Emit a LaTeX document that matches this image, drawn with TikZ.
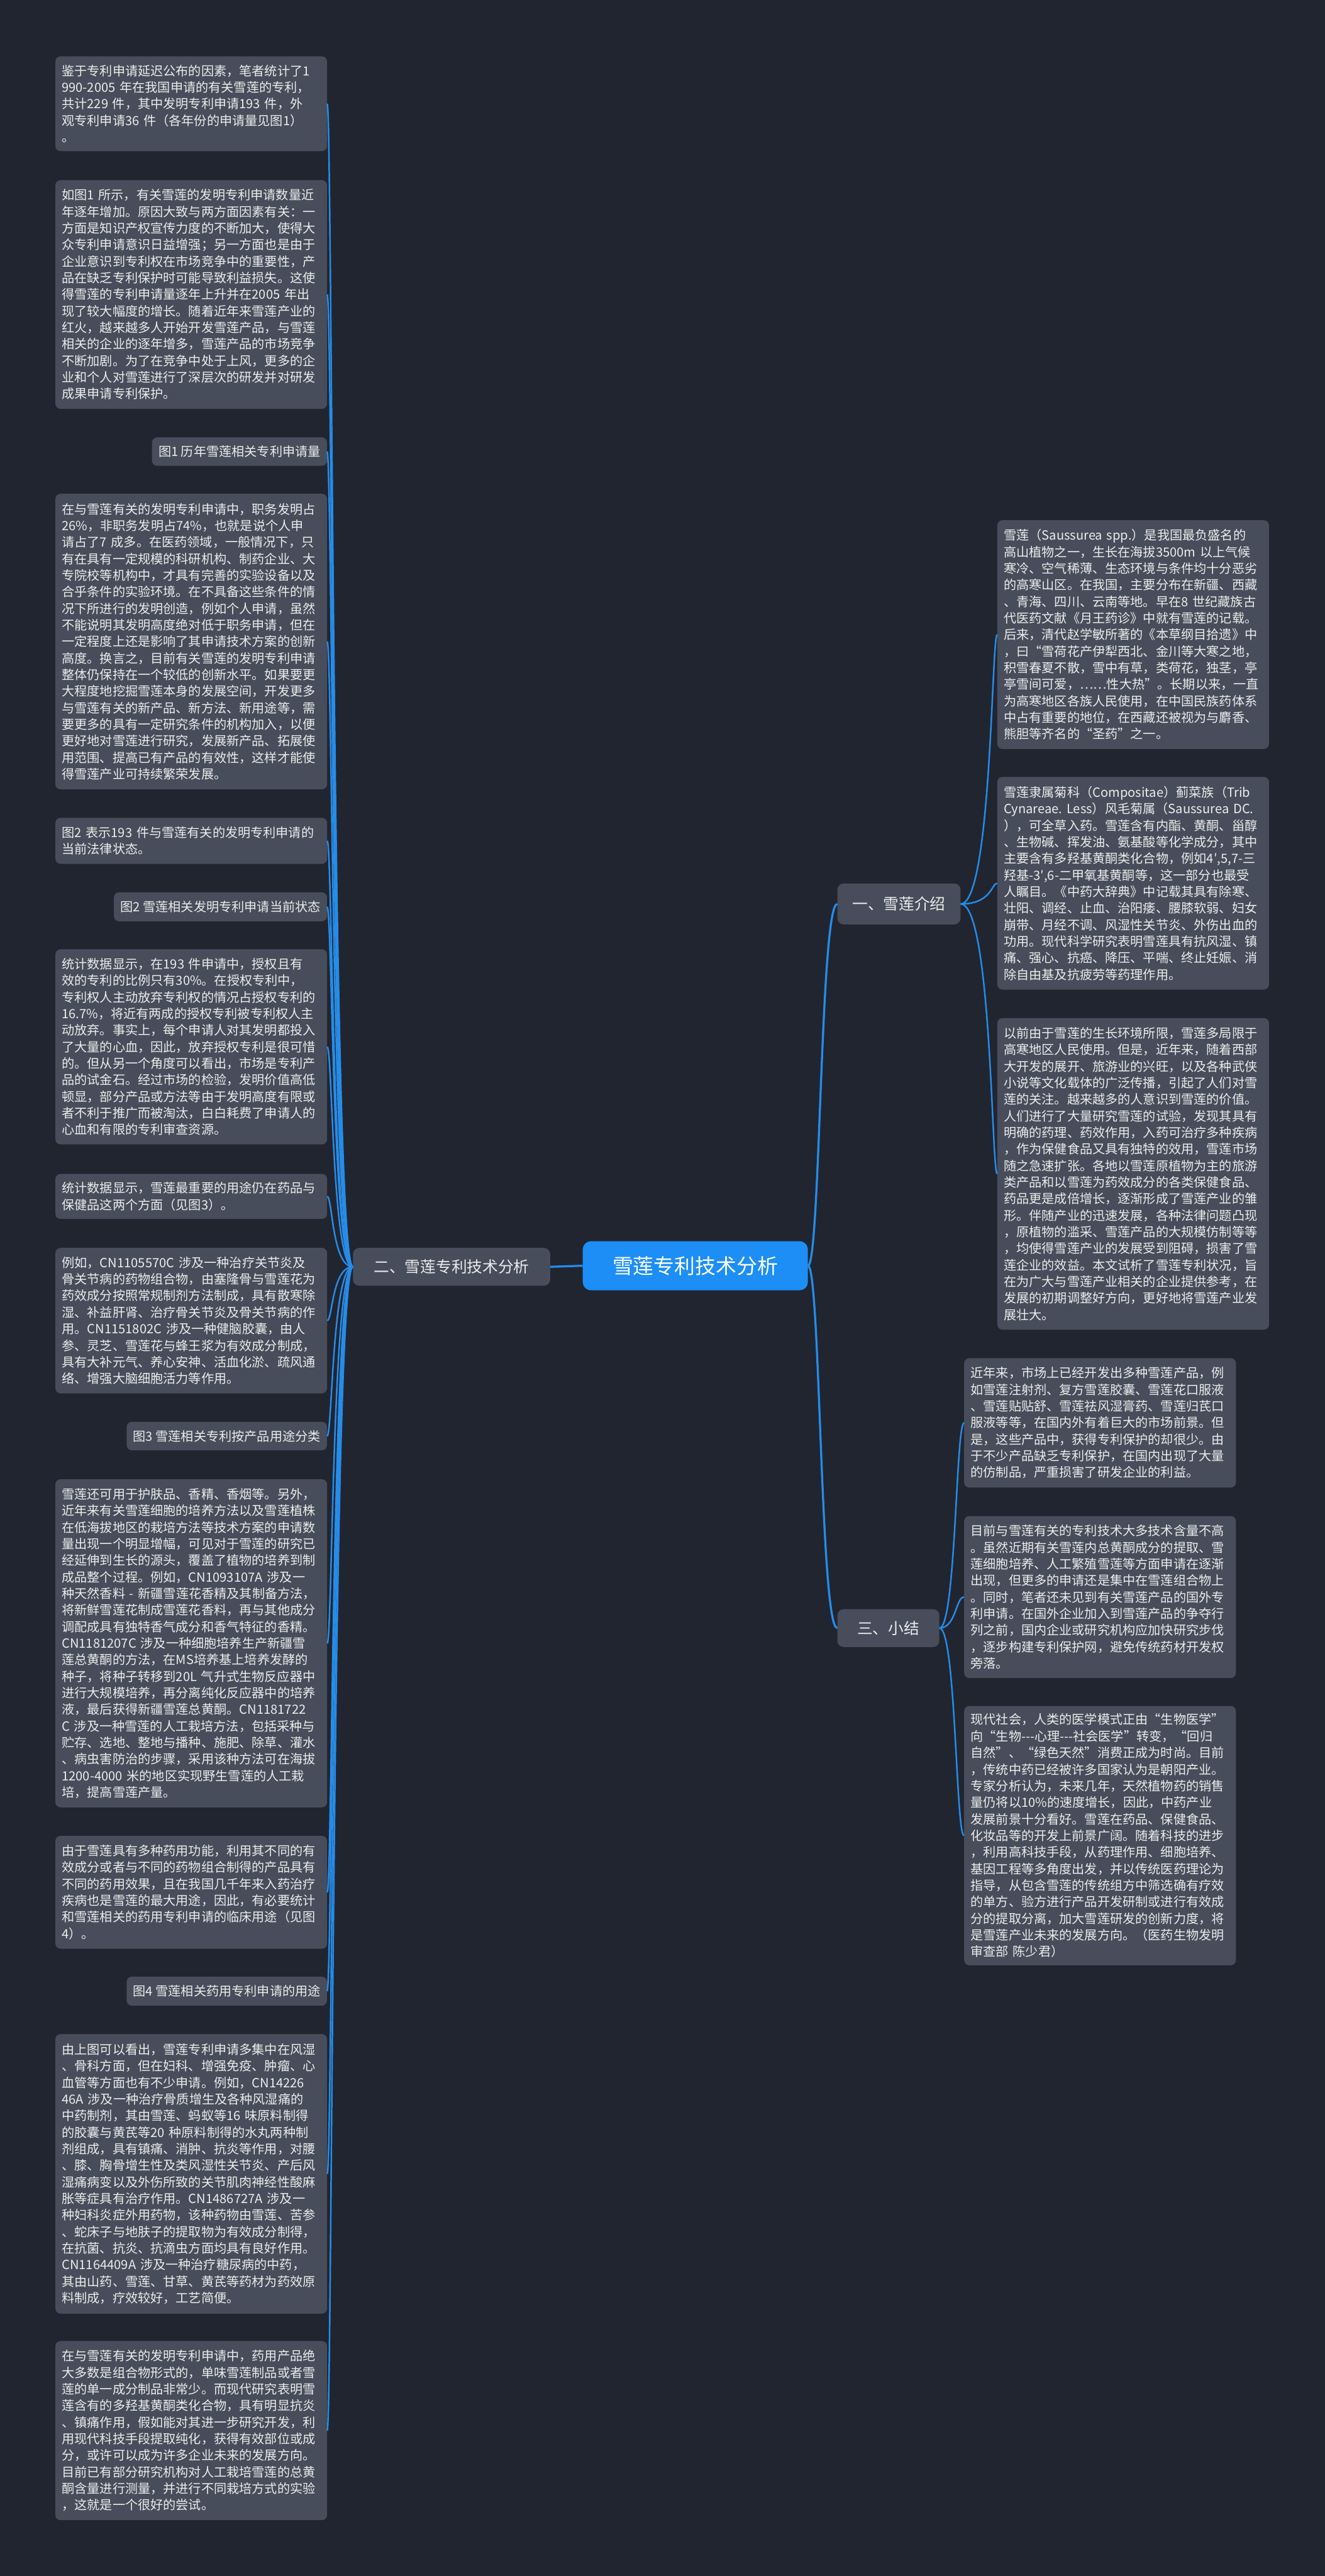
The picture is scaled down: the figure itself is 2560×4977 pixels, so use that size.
\documentclass[tikz,border=0pt]{standalone}
\usepackage{fontspec}
\newfontfamily\cjk{Noto Sans CJK SC}
\definecolor{bgc}{RGB}{33,37,48}
\definecolor{boxc}{RGB}{71,77,91}
\definecolor{txtc}{RGB}{236,236,236}
\definecolor{linec}{RGB}{38,140,232}
\definecolor{mainc}{RGB}{28,142,246}
\begin{document}
\begin{tikzpicture}[x=1pt,y=-1pt,
  box/.style={fill=boxc, rounded corners=10pt, text=txtc,
    font=\cjk\fontsize{24.5}{32}\selectfont, align=left, inner xsep=12.5pt, inner ysep=0pt},
  wbox/.style={box, text width=500pt},
  lvl/.style={fill=boxc, rounded corners=12pt, text=txtc,
    font=\cjk\fontsize{30}{36}\selectfont, inner xsep=0pt, inner ysep=0pt},
  root/.style={fill=mainc, rounded corners=16pt, text=white,
    font=\cjk\fontsize{40}{48}\selectfont, inner xsep=0pt, inner ysep=0pt},
  conn/.style={draw=linec, line width=3pt},
  mconn/.style={draw=linec, line width=4pt}]
\useasboundingbox (0,0) rectangle (2560,4977);
\fill[bgc] (0,0) rectangle (2560,4977);

% main nodes
\node[root, minimum width=435pt, minimum height=95pt] (c) at (1343.5,2445.5) {雪莲专利技术分析};
\node[lvl, minimum width=381pt, minimum height=73pt] (n2) at (872.5,2447.5) {二、雪莲专利技术分析};
\node[lvl, minimum width=238pt, minimum height=79pt] (n1) at (1737,1746.5) {一、雪莲介绍};
\node[lvl, minimum width=197pt, minimum height=73pt] (n3) at (1716.5,3145.5) {三、小结};

% left boxes
\node[wbox, minimum height=183pt] (b1) at (369.5,200.5) {鉴于专利申请延迟公布的因素，笔者统计了1\\990-2005~年在我国申请的有关雪莲的专利，\\共计229~件，其中发明专利申请193~件，外\\观专利申请36~件（各年份的申请量见图1）\\。};
\node[wbox, minimum height=442pt] (b2) at (369.5,569) {如图1~所示，有关雪莲的发明专利申请数量近\\年逐年增加。原因大致与两方面因素有关：一\\方面是知识产权宣传力度的不断加大，使得大\\众专利申请意识日益增强；另一方面也是由于\\企业意识到专利权在市场竞争中的重要性，产\\品在缺乏专利保护时可能导致利益损失。这使\\得雪莲的专利申请量逐年上升并在2005~年出\\现了较大幅度的增长。随着近年来雪莲产业的\\红火，越来越多人开始开发雪莲产品，与雪莲\\相关的企业的逐年增多，雪莲产品的市场竞争\\不断加剧。为了在竞争中处于上风，更多的企\\业和个人对雪莲进行了深层次的研发并对研发\\成果申请专利保护。};
\node[box, minimum height=55pt, anchor=east] (b3) at (632,872.5) {图1~历年雪莲相关专利申请量};
\node[wbox, minimum height=571pt] (b4) at (369.5,1239.5) {在与雪莲有关的发明专利申请中，职务发明占\\26\%，非职务发明占74\%，也就是说个人申\\请占了7~成多。在医药领域，一般情况下，只\\有在具有一定规模的科研机构、制药企业、大\\专院校等机构中，才具有完善的实验设备以及\\合乎条件的实验环境。在不具备这些条件的情\\况下所进行的发明创造，例如个人申请，虽然\\不能说明其发明高度绝对低于职务申请，但在\\一定程度上还是影响了其申请技术方案的创新\\高度。换言之，目前有关雪莲的发明专利申请\\整体仍保持在一个较低的创新水平。如果要更\\大程度地挖掘雪莲本身的发展空间，开发更多\\与雪莲有关的新产品、新方法、新用途等，需\\要更多的具有一定研究条件的机构加入，以便\\更好地对雪莲进行研究，发展新产品、拓展使\\用范围、提高已有产品的有效性，这样才能使\\得雪莲产业可持续繁荣发展。};
\node[wbox, minimum height=89pt] (b5) at (369.5,1624.5) {图2~表示193~件与雪莲有关的发明专利申请的\\当前法律状态。};
\node[box, minimum height=56pt, anchor=east] (b6) at (632,1752) {图2~雪莲相关发明专利申请当前状态};
\node[wbox, minimum height=377pt] (b7) at (369.5,2022.5) {统计数据显示，在193~件申请中，授权且有\\效的专利的比例只有30\%。在授权专利中，\\专利权人主动放弃专利权的情况占授权专利的\\16.7\%，将近有两成的授权专利被专利权人主\\动放弃。事实上，每个申请人对其发明都投入\\了大量的心血，因此，放弃授权专利是很可惜\\的。但从另一个角度可以看出，市场是专利产\\品的试金石。经过市场的检验，发明价值高低\\顿显，部分产品或方法等由于发明高度有限或\\者不利于推广而被淘汰，白白耗费了申请人的\\心血和有限的专利审查资源。};
\node[wbox, minimum height=87pt] (b8) at (369.5,2311.5) {统计数据显示，雪莲最重要的用途仍在药品与\\保健品这两个方面（见图3）。};
\node[wbox, minimum height=281pt] (b9) at (369.5,2551.5) {例如，CN1105570C~涉及一种治疗关节炎及\\骨关节病的药物组合物，由塞隆骨与雪莲花为\\药效成分按照常规制剂方法制成，具有散寒除\\湿、补益肝肾、治疗骨关节炎及骨关节病的作\\用。CN1151802C~涉及一种健脑胶囊，由人\\参、灵芝、雪莲花与蜂王浆为有效成分制成，\\具有大补元气、养心安神、活血化淤、疏风通\\络、增强大脑细胞活力等作用。};
\node[box, minimum height=55pt, anchor=east] (b10) at (632,2774.5) {图3~雪莲相关专利按产品用途分类};
\node[wbox, minimum height=634pt] (b11) at (369.5,3175) {雪莲还可用于护肤品、香精、香烟等。另外，\\近年来有关雪莲细胞的培养方法以及雪莲植株\\在低海拔地区的栽培方法等技术方案的申请数\\量出现一个明显增幅，可见对于雪莲的研究已\\经延伸到生长的源头，覆盖了植物的培养到制\\成品整个过程。例如，CN1093107A~涉及一\\种天然香料~-~新疆雪莲花香精及其制备方法，\\将新鲜雪莲花制成雪莲花香料，再与其他成分\\调配成具有独特香气成分和香气特征的香精。\\CN1181207C~涉及一种细胞培养生产新疆雪\\莲总黄酮的方法，在MS培养基上培养发酵的\\种子，将种子转移到20L~气升式生物反应器中\\进行大规模培养，再分离纯化反应器中的培养\\液，最后获得新疆雪莲总黄酮。CN1181722\\C~涉及一种雪莲的人工栽培方法，包括采种与\\贮存、选地、整地与播种、施肥、除草、灌水\\、病虫害防治的步骤，采用该种方法可在海拔\\1200-4000~米的地区实现野生雪莲的人工栽\\培，提高雪莲产量。};
\node[wbox, minimum height=218pt] (b12) at (369.5,3656) {由于雪莲具有多种药用功能，利用其不同的有\\效成分或者与不同的药物组合制得的产品具有\\不同的药用效果，且在我国几千年来入药治疗\\疾病也是雪莲的最大用途，因此，有必要统计\\和雪莲相关的药用专利申请的临床用途（见图\\4）。};
\node[box, minimum height=56pt, anchor=east] (b13) at (632,3847) {图4~雪莲相关药用专利申请的用途};
\node[wbox, minimum height=540pt] (b14) at (369.5,4200) {由上图可以看出，雪莲专利申请多集中在风湿\\、骨科方面，但在妇科、增强免疫、肿瘤、心\\血管等方面也有不少申请。例如，CN14226\\46A~涉及一种治疗骨质增生及各种风湿痛的\\中药制剂，其由雪莲、蚂蚁等16~味原料制得\\的胶囊与黄芪等20~种原料制得的水丸两种制\\剂组成，具有镇痛、消肿、抗炎等作用，对腰\\、膝、胸骨增生性及类风湿性关节炎、产后风\\湿痛病变以及外伤所致的关节肌肉神经性酸麻\\胀等症具有治疗作用。CN1486727A~涉及一\\种妇科炎症外用药物，该种药物由雪莲、苦参\\、蛇床子与地肤子的提取物为有效成分制得，\\在抗菌、抗炎、抗滴虫方面均具有良好作用。\\CN1164409A~涉及一种治疗糖尿病的中药，\\其由山药、雪莲、甘草、黄芪等药材为药效原\\料制成，疗效较好，工艺简便。};
\node[wbox, minimum height=346pt] (b15) at (369.5,4696) {在与雪莲有关的发明专利申请中，药用产品绝\\大多数是组合物形式的，单味雪莲制品或者雪\\莲的单一成分制品非常少。而现代研究表明雪\\莲含有的多羟基黄酮类化合物，具有明显抗炎\\、镇痛作用，假如能对其进一步研究开发，利\\用现代科技手段提取纯化，获得有效部位或成\\分，或许可以成为许多企业未来的发展方向。\\目前已有部分研究机构对人工栽培雪莲的总黄\\酮含量进行测量，并进行不同栽培方式的实验\\，这就是一个很好的尝试。};

% right boxes
\node[wbox, minimum height=442pt] (r1) at (2189.5,1226) {雪莲（Saussurea~spp.）是我国最负盛名的\\高山植物之一，生长在海拔3500m~以上气候\\寒冷、空气稀薄、生态环境与条件均十分恶劣\\的高寒山区。在我国，主要分布在新疆、西藏\\、青海、四川、云南等地。早在8~世纪藏族古\\代医药文献《月王药诊》中就有雪莲的记载。\\后来，清代赵学敏所著的《本草纲目拾遗》中\\，曰“雪荷花产伊犁西北、金川等大寒之地，\\积雪春夏不散，雪中有草，类荷花，独茎，亭\\亭雪间可爱，……性大热”。长期以来，一直\\为高寒地区各族人民使用，在中国民族药体系\\中占有重要的地位，在西藏还被视为与麝香、\\熊胆等齐名的“圣药”之一。};
\node[wbox, minimum height=411pt] (r2) at (2189.5,1706.5) {雪莲隶属菊科（Compositae）蓟菜族（Trib\\Cynareae.~Less）风毛菊属（Saussurea~DC.\\），可全草入药。雪莲含有内酯、黄酮、甾醇\\、生物碱、挥发油、氨基酸等化学成分，其中\\主要含有多羟基黄酮类化合物，例如4′,5,7-三\\羟基-3′,6-二甲氧基黄酮等，这一部分也最受\\人瞩目。《中药大辞典》中记载其具有除寒、\\壮阳、调经、止血、治阳痿、腰膝软弱、妇女\\崩带、月经不调、风湿性关节炎、外伤出血的\\功用。现代科学研究表明雪莲具有抗风湿、镇\\痛、强心、抗癌、降压、平喘、终止妊娠、消\\除自由基及抗疲劳等药理作用。};
\node[wbox, minimum height=602pt] (r3) at (2189.5,2268) {以前由于雪莲的生长环境所限，雪莲多局限于\\高寒地区人民使用。但是，近年来，随着西部\\大开发的展开、旅游业的兴旺，以及各种武侠\\小说等文化载体的广泛传播，引起了人们对雪\\莲的关注。越来越多的人意识到雪莲的价值。\\人们进行了大量研究雪莲的试验，发现其具有\\明确的药理、药效作用，入药可治疗多种疾病\\，作为保健食品又具有独特的效用，雪莲市场\\随之急速扩张。各地以雪莲原植物为主的旅游\\类产品和以雪莲为药效成分的各类保健食品、\\药品更是成倍增长，逐渐形成了雪莲产业的雏\\形。伴随产业的迅速发展，各种法律问题凸现\\，原植物的滥采、雪莲产品的大规模仿制等等\\，均使得雪莲产业的发展受到阻碍，损害了雪\\莲企业的效益。本文试析了雪莲专利状况，旨\\在为广大与雪莲产业相关的企业提供参考，在\\发展的初期调整好方向，更好地将雪莲产业发\\展壮大。};
\node[wbox, minimum height=250pt] (r4) at (2125.5,2749) {近年来，市场上已经开发出多种雪莲产品，例\\如雪莲注射剂、复方雪莲胶囊、雪莲花口服液\\、雪莲贴贴舒、雪莲祛风湿膏药、雪莲归芪口\\服液等等，在国内外有着巨大的市场前景。但\\是，这些产品中，获得专利保护的却很少。由\\于不少产品缺乏专利保护，在国内出现了大量\\的仿制品，严重损害了研发企业的利益。};
\node[wbox, minimum height=313pt] (r5) at (2125.5,3085.5) {目前与雪莲有关的专利技术大多技术含量不高\\。虽然近期有关雪莲内总黄酮成分的提取、雪\\莲细胞培养、人工繁殖雪莲等方面申请在逐渐\\出现，但更多的申请还是集中在雪莲组合物上\\。同时，笔者还未见到有关雪莲产品的国外专\\利申请。在国外企业加入到雪莲产品的争夺行\\列之前，国内企业或研究机构应加快研究步伐\\，逐步构建专利保护网，避免传统药材开发权\\旁落。};
\node[wbox, minimum height=501pt] (r6) at (2125.5,3546.5) {现代社会，人类的医学模式正由“生物医学”\\向“生物-{}-{}-心理-{}-{}-社会医学”转变，“回归\\自然”、“绿色天然”消费正成为时尚。目前\\，传统中药已经被许多国家认为是朝阳产业。\\专家分析认为，未来几年，天然植物药的销售\\量仍将以10\%的速度增长，因此，中药产业\\发展前景十分看好。雪莲在药品、保健食品、\\化妆品等的开发上前景广阔。随着科技的进步\\，利用高科技手段，从药理作用、细胞培养、\\基因工程等多角度出发，并以传统医药理论为\\指导，从包含雪莲的传统组方中筛选确有疗效\\的单方、验方进行产品开发研制或进行有效成\\分的提取分离，加大雪莲研发的创新力度，将\\是雪莲产业未来的发展方向。（医药生物发明\\审查部~陈少君）};

% connectors
\draw[mconn] (c.west) -- (n2.east);
\draw[mconn] (c.east) .. controls +(24,0) and +(-33,0) .. (n1.west);
\draw[mconn] (c.east) .. controls +(24,0) and +(-33,0) .. (n3.west);
\foreach \b in {b1,b2,b3,b4,b5,b6,b7,b8,b9,b10,b11,b12,b13,b14,b15}
  \draw[conn] (\b.east) .. controls +(10,0) and +(-40,0) .. (n2.west);
\foreach \b in {r1,r2,r3}
  \draw[conn] (n1.east) .. controls +(60,0) and +(-11,0) .. (\b.west);
\foreach \b in {r4,r5,r6}
  \draw[conn] (n3.east) .. controls +(32,0) and +(-16,0) .. (\b.west);
\end{tikzpicture}
\end{document}
